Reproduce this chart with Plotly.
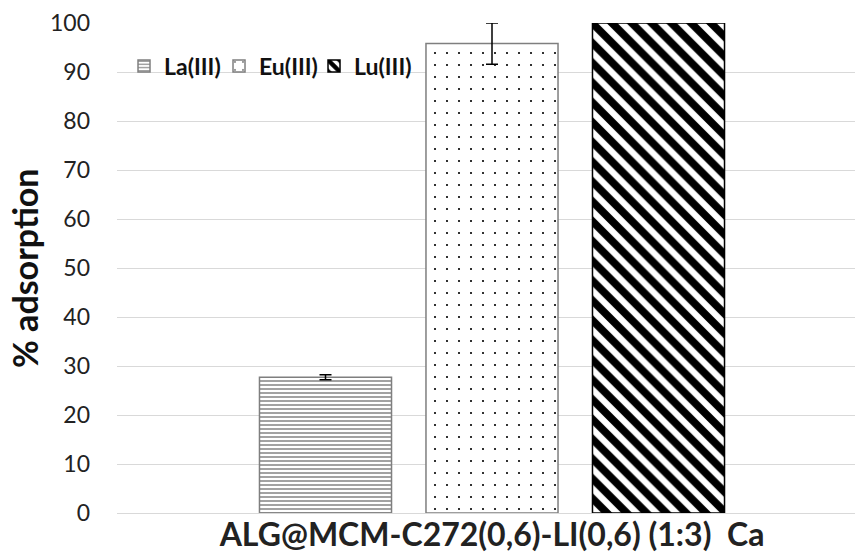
import plotly.graph_objects as go

category = ["ALG@MCM-C272(0,6)-LI(0,6) (1:3)  Ca"]
series_names = ["La(III)", "Eu(III)", "Lu(III)"]
values = [27.7, 95.8, 100.0]
errors = [0.5, 4.2, None]
y_ticks = [0, 10, 20, 30, 40, 50, 60, 70, 80, 90, 100]

styles = [
    dict(shape="-", fg="#8a8a8a", size=4, solidity=0.4, line="#7f7f7f", lw=50),
    dict(shape=".", fg="#000000", size=12, solidity=0.025, line="#7f7f7f", lw=50),
    dict(shape="\\", fg="#000000", size=14, solidity=0.55, line="#000000", lw=80),
]

FONT = "Lato"
fig = go.Figure()
for name, v, e, st in zip(series_names, values, errors, styles):
    fig.add_trace(go.Bar(
        name=name,
        x=category,
        y=[v],
        legendwidth=st["lw"],
        marker=dict(
            color="white",
            line=dict(color=st["line"], width=1.5),
            pattern=dict(shape=st["shape"], fgcolor=st["fg"], bgcolor="white", fgopacity=1,
                         size=st["size"], solidity=st["solidity"], fillmode="overlay"),
        ),
        error_y=dict(type="data", array=[e] if e is not None else [0],
                     visible=e is not None, color="black", thickness=1.5, width=6),
    ))

fig.update_layout(
    width=855, height=557,
    margin=dict(l=117, r=0, t=23, b=44, autoexpand=False),
    paper_bgcolor="white", plot_bgcolor="white",
    barmode="group", bargap=0.334, bargroupgap=0.207,
    font=dict(family=FONT, color="#222222"),
    showlegend=True,
    legend=dict(orientation="h", x=0.0095, y=(513 - 66) / 490, xanchor="left", yanchor="middle",
                font=dict(family=FONT, size=23, weight="bold", color="#111111"),
                bgcolor="rgba(0,0,0,0)", traceorder="normal",
                entrywidthmode="pixels"),
    xaxis=dict(range=[-0.5, 0.484], showgrid=False, showline=False, ticks="",
               automargin=False,
               tickvals=category,
               ticktext=["ALG@MCM-C272(0,6)-LI(0,6) (1:3)\u00a0 Ca"],
               tickfont=dict(family=FONT, size=32, weight="bold", color="#222222")),
    yaxis=dict(range=[0, 100], tickvals=y_ticks, showgrid=True, gridcolor="#d9d9d9",
               gridwidth=1, zeroline=True, zerolinecolor="#d9d9d9", zerolinewidth=1,
               showline=False, ticks="", ticklabelstandoff=26, automargin=False,
               tickfont=dict(family=FONT, size=23, color="#222222")),
    annotations=[dict(text="<b>% adsorption</b>", xref="paper", yref="paper",
                      x=(24 - 117) / 738, y=(513 - 268) / 490, xanchor="center", yanchor="middle",
                      textangle=-90, showarrow=False,
                      font=dict(family=FONT, size=34, color="#111111"))],
)

fig.write_html("out.html", config={"displayModeBar": False},
               post_script="document.body.style.margin='0';")
